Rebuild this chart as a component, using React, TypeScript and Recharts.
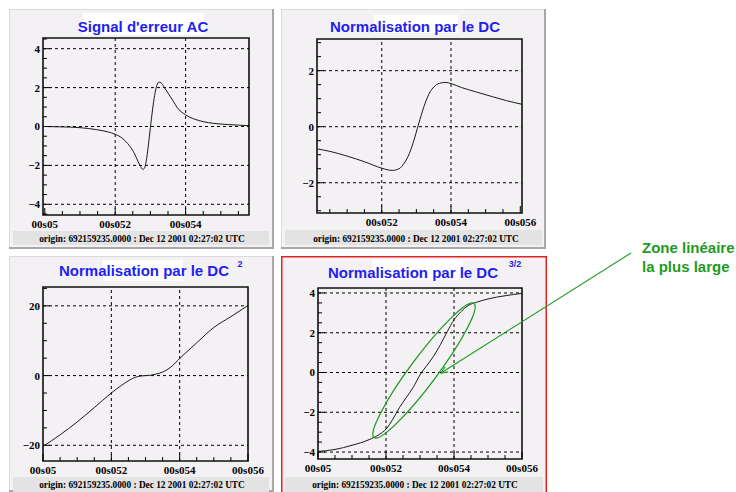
import React from 'react';
import { LineChart, Line, XAxis, YAxis, ReferenceLine, ReferenceArea } from 'recharts';

// time axis: units of 0.1 ms after 00s05 (0 -> "00s05", 2 -> "00s052", ...)
const acTime = [-0.05, 0.5, 1.0, 1.5, 1.8, 2.0, 2.2, 2.4, 2.55, 2.65, 2.72, 2.78, 2.83, 2.88, 2.94, 3.0, 3.06, 3.12, 3.18, 3.24, 3.3, 3.38, 3.5, 3.65, 3.75, 4.0, 4.25, 4.5, 4.8, 5.2, 5.5, 5.8];
const acSignal = [0.0, -0.02, -0.06, -0.17, -0.28, -0.4, -0.6, -0.98, -1.4, -1.8, -2.05, -2.2, -2.15, -1.8, -1.0, -0.05, 0.85, 1.6, 2.1, 2.28, 2.25, 2.05, 1.72, 1.3, 1.0, 0.6, 0.38, 0.25, 0.16, 0.1, 0.07, 0.04];

const dcTime = [0.13, 0.5, 1.0, 1.5, 2.0, 2.3, 2.5, 2.65, 2.8, 2.95, 3.1, 3.25, 3.4, 3.55, 3.7, 3.85, 4.0, 4.3, 4.7, 5.2, 5.6, 6.05];
const dcSignal = [-0.79, -0.88, -1.05, -1.25, -1.48, -1.56, -1.5, -1.3, -0.95, -0.4, 0.25, 0.83, 1.25, 1.47, 1.56, 1.58, 1.54, 1.4, 1.25, 1.07, 0.93, 0.8];

const dc2Time = [0, 0.5, 1.0, 1.5, 2.0, 2.3, 2.55, 2.7, 2.85, 3.0, 3.15, 3.3, 3.5, 3.75, 4.0, 4.5, 5.0, 5.5, 6.0];
const dc2Signal = [-20.3, -17.0, -13.3, -9.2, -5.0, -2.8, -1.2, -0.5, -0.15, 0, 0.1, 0.4, 1.0, 2.5, 4.9, 9.4, 13.8, 16.9, 20.1];

const dc32Time = [0, 0.5, 1.0, 1.5, 1.8, 2.0, 2.2, 2.4, 2.6, 2.8, 3.0, 3.2, 3.4, 3.6, 3.8, 4.0, 4.2, 4.4, 4.7, 5.0, 5.5, 6.0];
const dc32Signal = [-3.97, -3.87, -3.66, -3.38, -3.12, -2.85, -2.35, -1.75, -1.25, -0.75, -0.12, 0.35, 0.82, 1.4, 2.05, 2.65, 3.05, 3.35, 3.55, 3.7, 3.86, 3.98];

// axis ticks (minor + major)
const timeTicks = [0, 0.5, 1, 1.5, 2, 2.5, 3, 3.5, 4, 4.5, 5, 5.5, 6];
const timeMajor = [0, 2, 4, 6];
const timeLabels: Record<string, string> = { '0': '00s05', '2': '00s052', '4': '00s054', '6': '00s056' };

const acTicks = [-4.5, -4, -3.5, -3, -2.5, -2, -1.5, -1, -0.5, 0, 0.5, 1, 1.5, 2, 2.5, 3, 3.5, 4, 4.5];
const acMajor = [-4, -2, 0, 2, 4];
const dcTicks = [-3, -2.5, -2, -1.5, -1, -0.5, 0, 0.5, 1, 1.5, 2, 2.5, 3];
const dcMajor = [-2, 0, 2];
const dc2Ticks = [-20, -15, -10, -5, 0, 5, 10, 15, 20, 25];
const dc2Major = [-20, 0, 20];

const titles = ["Signal d'erreur AC", 'Normalisation par le DC', 'Normalisation par le DC', 'Normalisation par le DC'];
const titleSup = ['', '', '2', '3/2'];
const originText = 'origin: 692159235.0000 : Dec 12 2001 02:27:02 UTC';
const noteLines = ['Zone linéaire', 'la plus large'];

const serif = '"Liberation Serif", "Times New Roman", serif';
const sans = '"Liberation Sans", Arial, Helvetica, sans-serif';
const blue = '#1f1ff2';
const green = '#1f9a1f';

const toRows = (t: number[], v: number[]) => t.map((x, i) => ({ t: x, v: v[i] }));

const panels = [
  {
    box: { x: 9, y: 9, w: 265, h: 240 }, plot: { l: 43, r: 249, t: 38, b: 215 },
    titleX: 143, titleY: 32, titleBox: [83, 13, 121, 22], bar: [13, 231, 256, 14], barTextX: 142, barTextY: 242,
    data: toRows(acTime, acSignal), xDomain: [-0.05, 5.8], yDomain: [-4.55, 4.55], yTicks: acTicks, yMajor: acMajor,
  },
  {
    box: { x: 281, y: 9, w: 265, h: 240 }, plot: { l: 317, r: 522, t: 39, b: 213 },
    titleX: 415, titleY: 32, titleBox: [374, 15, 84, 18], bar: [285, 230, 257, 15], barTextX: 416, barTextY: 242,
    data: toRows(dcTime, dcSignal), xDomain: [0.13, 6.05], yDomain: [-3.08, 3.13], yTicks: dcTicks, yMajor: dcMajor,
  },
  {
    box: { x: 9, y: 256, w: 265, h: 236 }, plot: { l: 43, r: 248, t: 287, b: 461 },
    titleX: 144, titleY: 276, titleBox: [103, 260, 80, 21], bar: [13, 477, 256, 15], barTextX: 142, barTextY: 488,
    supX: 240, supY: 266.5,
    data: toRows(dc2Time, dc2Signal), xDomain: [0, 6], yDomain: [-24.5, 25.4], yTicks: dc2Ticks, yMajor: dc2Major,
  },
  {
    box: { x: 281, y: 256, w: 266, h: 236 }, plot: { l: 318, r: 522, t: 288, b: 459 },
    titleX: 413, titleY: 278, titleBox: [372, 260, 91, 20], bar: [285, 477, 258, 15], barTextX: 415, barTextY: 488,
    supX: 515, supY: 266.5,
    data: toRows(dc32Time, dc32Signal), xDomain: [0, 6], yDomain: [-4.35, 4.25], yTicks: acTicks, yMajor: acMajor,
  },
];

const makeXTick = (major: number[]) => (props: any) => {
  const { x, y, payload } = props;
  const isMajor = major.includes(payload.value);
  return (
    <g>
      <line x1={x} x2={x} y1={y} y2={y - (isMajor ? 7 : 4)} stroke="#000" strokeWidth={1} />
      {isMajor && (
        <text x={x} y={y + 13} textAnchor="middle" fontFamily={serif} fontWeight="bold" fontSize={11} fill="#000">
          {timeLabels[String(payload.value)]}
        </text>
      )}
    </g>
  );
};

const makeYTick = (major: number[]) => (props: any) => {
  const { x, y, payload } = props;
  const v = payload.value;
  const isMajor = major.includes(v);
  return (
    <g>
      <line x1={x} x2={x + (isMajor ? 7 : 4)} y1={y} y2={y} stroke="#000" strokeWidth={1} />
      {isMajor && (
        <text x={x - 3} y={y} dy="0.36em" textAnchor="end" fontFamily={serif} fontWeight="bold" fontSize={11} fill="#000">
          {v < 0 ? '\u2212' + Math.abs(v) : String(v)}
        </text>
      )}
    </g>
  );
};

const Panel = ({ p }: { p: (typeof panels)[number] }) => {
  const { box, plot, xDomain, yDomain } = p;
  const xTicks = timeTicks.filter((t) => t >= xDomain[0] && t <= xDomain[1]);
  const yTicks = p.yTicks.filter((t) => t >= yDomain[0] && t <= yDomain[1]);
  const vGrid = timeMajor.filter((t) => t > xDomain[0] + 0.1 && t < xDomain[1] - 0.1);
  const hGrid = p.yMajor.filter((t) => t > yDomain[0] && t < yDomain[1]);
  return (
    <div style={{ position: 'absolute', left: box.x, top: box.y }}>
      <LineChart
        width={box.w}
        height={box.h}
        data={p.data}
        margin={{ top: plot.t - box.y, right: box.x + box.w - plot.r, left: 0, bottom: 0 }}
      >
        <XAxis
          dataKey="t"
          type="number"
          domain={xDomain}
          allowDataOverflow
          ticks={xTicks}
          interval={0}
          height={box.y + box.h - plot.b}
          axisLine={false}
          tickLine={false}
          tickSize={0}
          tickMargin={0}
          tick={makeXTick(timeMajor)}
        />
        <YAxis
          type="number"
          domain={yDomain}
          allowDataOverflow
          ticks={yTicks}
          interval={0}
          width={plot.l - box.x}
          axisLine={false}
          tickLine={false}
          tickSize={0}
          tickMargin={0}
          tick={makeYTick(p.yMajor)}
        />
        {hGrid.map((v) => (
          <ReferenceLine key={'h' + v} y={v} stroke="#000" strokeWidth={1} strokeDasharray="3 3" />
        ))}
        {vGrid.map((v) => (
          <ReferenceLine key={'v' + v} x={v} stroke="#000" strokeWidth={1} strokeDasharray="3 3" />
        ))}
        <Line
          type="monotone"
          dataKey="v"
          stroke="#1a1a1a"
          strokeWidth={1}
          dot={false}
          isAnimationActive={false}
        />
        <ReferenceArea
          x1={xDomain[0]}
          x2={xDomain[1]}
          y1={yDomain[0]}
          y2={yDomain[1]}
          fill="none"
          fillOpacity={0}
          stroke="#111"
          strokeWidth={1.6}
        />
      </LineChart>
    </div>
  );
};

export default function App() {
  return (
    <div style={{ position: 'absolute', left: 0, top: 0, width: 736, height: 492, background: '#fff', overflow: 'hidden' }}>
      {/* panel frames, titles and origin bars */}
      <svg width={736} height={492} style={{ position: 'absolute', left: 0, top: 0 }}>
        {panels.map((p, i) => {
          const { box } = p;
          const [bx, by, bw, bh] = p.bar;
          const [tx, ty, tw, th] = p.titleBox;
          return (
            <g key={i}>
              <rect x={box.x} y={box.y} width={box.w} height={box.h} fill="#f4f1f4" />
              {i === 3 ? (
                <rect x={box.x + 0.75} y={box.y + 0.75} width={box.w - 1.5} height={box.h} fill="none" stroke="#e02424" strokeWidth={1.5} />
              ) : (
                <g>
                  <polyline points={`${box.x + 0.5},${box.y + box.h} ${box.x + 0.5},${box.y + 0.5} ${box.x + box.w},${box.y + 0.5}`} fill="none" stroke="#dcdcdc" strokeWidth={1} />
                  <polyline points={`${box.x + box.w - 1},${box.y} ${box.x + box.w - 1},${box.y + box.h - 1} ${box.x},${box.y + box.h - 1}`} fill="none" stroke="#a8a8a8" strokeWidth={2} />
                </g>
              )}
              <rect x={tx} y={ty} width={tw} height={th} fill="#ffffff" />
              <text x={p.titleX} y={p.titleY} textAnchor="middle" fontFamily={sans} fontWeight="bold" fontSize={15} fill={blue}>
                {titles[i]}
              </text>
              {titleSup[i] && (
                <text x={p.supX} y={p.supY} textAnchor="middle" fontFamily={sans} fontWeight="bold" fontSize={9} fill={blue}>
                  {titleSup[i]}
                </text>
              )}
              <rect x={bx} y={by} width={bw} height={bh} fill="#e3e3e3" />
              <text x={p.barTextX} y={p.barTextY} textAnchor="middle" fontFamily={serif} fontWeight="bold" fontSize={9.3} fill="#000">
                {originText}
              </text>
            </g>
          );
        })}
      </svg>

      {panels.map((p, i) => (
        <Panel key={i} p={p} />
      ))}

      {/* annotation */}
      <svg width={736} height={492} style={{ position: 'absolute', left: 0, top: 0, pointerEvents: 'none' }}>
        <defs>
          <marker id="arrowHead" viewBox="0 0 10 10" refX="9" refY="5" markerWidth="7" markerHeight="7" orient="auto">
            <path d="M0,1 L9,5 L0,9" fill="none" stroke={green} strokeWidth={1.4} />
          </marker>
        </defs>
        <ellipse cx={424} cy={370.5} rx={83.6} ry={13.5} transform="rotate(-53.3 424 370.5)" fill="none" stroke={green} strokeWidth={1.3} />
        <line x1={631} y1={253} x2={441} y2={373} stroke={green} strokeWidth={1.1} markerEnd="url(#arrowHead)" />
        {noteLines.map((s, i) => (
          <text key={s} x={642} y={253 + i * 18.5} fontFamily={sans} fontWeight="bold" fontSize={15} fill={green}>
            {s}
          </text>
        ))}
      </svg>
    </div>
  );
}
